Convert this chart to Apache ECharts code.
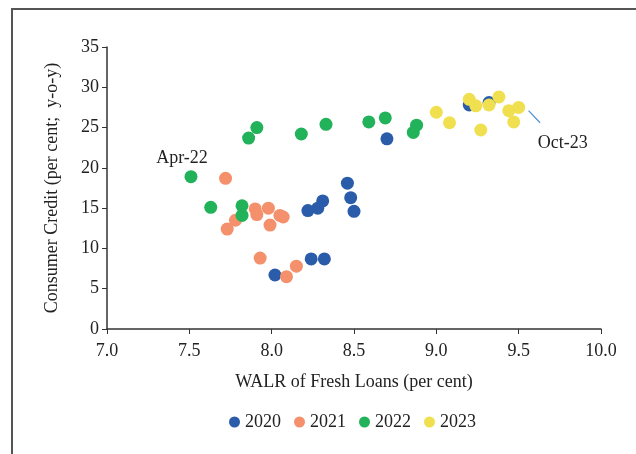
<!DOCTYPE html>
<html>
<head>
<meta charset="utf-8">
<script src="https://cdn.jsdelivr.net/npm/echarts@6/dist/echarts.min.js"></script>
<style>
  html, body { margin: 0; padding: 0; background: #fff; }
  #chart { width: 636px; height: 454px; }
</style>
</head>
<body>
<div id="chart"></div>
<script>
// [WALR, consumer credit growth]
var y2020 = [[8.02, 6.7], [8.24, 8.7], [8.32, 8.7], [8.22, 14.7], [8.28, 15.0], [8.31, 15.9],
             [8.46, 18.1], [8.48, 16.3], [8.50, 14.6], [8.70, 23.6], [9.32, 28.1], [9.20, 27.8]];
var y2021 = [[7.72, 18.7], [7.78, 13.5], [7.73, 12.4], [7.90, 14.9], [7.91, 14.2], [7.98, 15.0],
             [8.05, 14.1], [8.07, 13.9], [7.99, 12.9], [7.93, 8.8], [8.09, 6.5], [8.15, 7.8]];
var y2022 = [[7.63, 15.1], [7.82, 15.3], [7.82, 14.1], [7.51, 18.9], [7.86, 23.7], [7.91, 25.0],
             [8.18, 24.2], [8.33, 25.4], [8.59, 25.7], [8.69, 26.2], [8.88, 25.3], [8.86, 24.4]];
var y2023 = [[9.00, 26.9], [9.08, 25.6], [9.20, 28.5], [9.24, 27.7], [9.27, 24.7], [9.32, 27.8],
             [9.38, 28.8], [9.44, 27.1], [9.47, 25.7], [9.50, 27.5]];
var years = ['2020', '2021', '2022', '2023'];
var colors = ['#2a5caa', '#f4906c', '#21b25a', '#f0df4f'];
var font = 'Liberation Serif';

var myChart = echarts.init(document.getElementById('chart'));
var seriesData = [y2020, y2021, y2022, y2023];
var series = seriesData.map(function (d, i) {
  return {
    name: years[i],
    type: 'scatter',
    data: d,
    symbolSize: 13,
    itemStyle: { color: colors[i], opacity: 1 },
    emphasis: { disabled: true }
  };
});

// Apr-22 label
series[2].markPoint = {
  symbol: 'circle', symbolSize: 0,
  data: [{ coord: [7.51, 18.9], label: { show: true, formatter: 'Apr-22', offset: [-9, -18],
    color: '#222', fontFamily: font, fontSize: 18 } }]
};
// Oct-23 leader line and label
series[3].markLine = {
  silent: true, symbol: 'none', animation: false,
  lineStyle: { color: '#4a90d9', width: 1.2, type: 'solid' },
  label: { show: false },
  data: [[{ coord: [9.56, 27.1] }, { coord: [9.63, 25.6] }]]
};
series[3].markPoint = {
  symbol: 'circle', symbolSize: 0,
  data: [{ coord: [9.50, 27.5], label: { show: true, formatter: 'Oct-23', offset: [44, 36],
    color: '#222', fontFamily: font, fontSize: 18 } }]
};

option = {
  animation: false,
  graphic: [{
    type: 'polyline',
    shape: { points: [[12, 454], [12, 9], [636, 9]] },
    style: { stroke: '#555', lineWidth: 2, fill: null }
  }],
  grid: { left: 107, right: 35, top: 47, bottom: 125 },
  legend: {
    bottom: 18, left: 224,
    icon: 'circle', itemWidth: 11, itemHeight: 11, itemGap: 13,
    selectedMode: false,
    textStyle: { fontFamily: font, fontSize: 18, color: '#222' },
    data: years
  },
  xAxis: {
    type: 'value', min: 7, max: 10, interval: 0.5,
    name: 'WALR of Fresh Loans (per cent)',
    nameLocation: 'middle', nameGap: 44,
    nameTextStyle: { fontFamily: font, fontSize: 18, color: '#222' },
    axisLine: { lineStyle: { color: '#333', width: 1.5 } },
    axisTick: { show: true, length: 5, lineStyle: { color: '#333' } },
    splitLine: { show: false },
    axisLabel: { fontFamily: font, fontSize: 18, color: '#222', margin: 13,
      formatter: function (v) { return v.toFixed(1); } }
  },
  yAxis: {
    type: 'value', min: 0, max: 35, interval: 5,
    name: 'Consumer Credit (per cent;  y-o-y)',
    nameLocation: 'middle', nameGap: 46, nameRotate: 90,
    nameTextStyle: { fontFamily: font, fontSize: 18, color: '#222' },
    axisLine: { show: true, lineStyle: { color: '#333', width: 1.5 } },
    axisTick: { show: true, length: 5, lineStyle: { color: '#333' } },
    splitLine: { show: false },
    axisLabel: { fontFamily: font, fontSize: 18, color: '#222', margin: 8 }
  },
  series: series
};
myChart.setOption(option);
</script>
</body>
</html>
